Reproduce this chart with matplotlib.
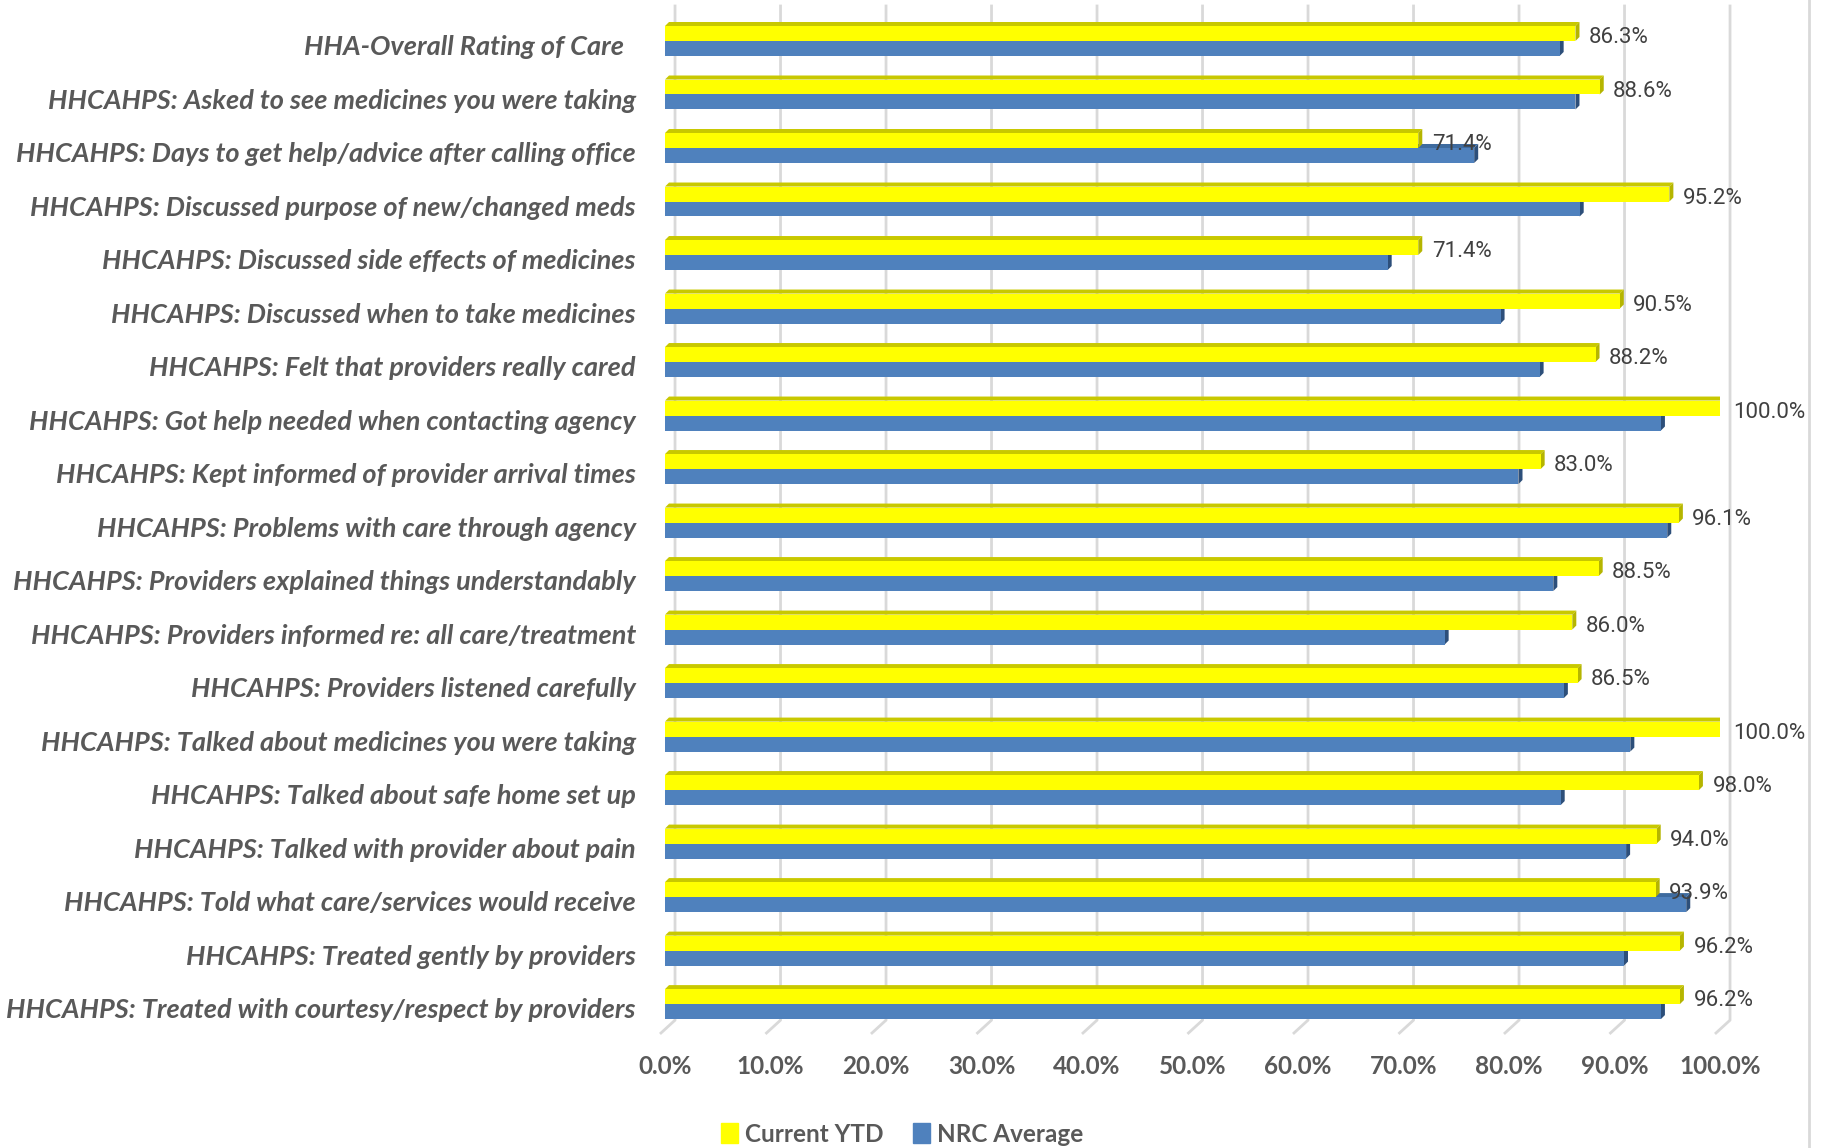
import numpy as np
import matplotlib
matplotlib.use("Agg")
import matplotlib.pyplot as plt
from matplotlib.patches import Polygon, Patch
from matplotlib.lines import Line2D

labels = [
    "HHA-Overall Rating of Care  ",
    "HHCAHPS: Asked to see medicines you were taking",
    "HHCAHPS: Days to get help/advice after calling office",
    "HHCAHPS: Discussed purpose of new/changed meds",
    "HHCAHPS: Discussed side effects of medicines",
    "HHCAHPS: Discussed when to take medicines",
    "HHCAHPS: Felt that providers really cared",
    "HHCAHPS: Got help needed when contacting agency",
    "HHCAHPS: Kept informed of provider arrival times",
    "HHCAHPS: Problems with care through agency",
    "HHCAHPS: Providers explained things understandably",
    "HHCAHPS: Providers informed re: all care/treatment",
    "HHCAHPS: Providers listened carefully",
    "HHCAHPS: Talked about medicines you were taking",
    "HHCAHPS: Talked about safe home set up",
    "HHCAHPS: Talked with provider about pain",
    "HHCAHPS: Told what care/services would receive",
    "HHCAHPS: Treated gently by providers",
    "HHCAHPS: Treated with courtesy/respect by providers",
]
current_ytd = [86.3, 88.6, 71.4, 95.2, 71.4, 90.5, 88.2, 100.0, 83.0, 96.1,
               88.5, 86.0, 86.5, 100.0, 98.0, 94.0, 93.9, 96.2, 96.2]
nrc_average = [84.8, 86.3, 76.7, 86.7, 68.5, 79.2, 82.9, 94.4, 80.9, 95.0,
               84.2, 73.9, 85.2, 91.5, 84.9, 91.1, 96.8, 90.9, 94.4]
ticks = np.arange(0, 101, 10)

YEL, YEL_TOP, YEL_SIDE = "#FFFF00", "#C8C800", "#B5B500"
BLU, BLU_TOP, BLU_SIDE = "#4F81BD", "#3E6B9F", "#2D4F7A"
GRAY = "#595959"

W, H = 1824, 1148
fig = plt.figure(figsize=(W / 100, H / 100), dpi=100)
ax = fig.add_axes([665 / W, (H - 1033) / H, 1055 / W, 1027 / H])
ax.set_xlim(0, 100)
ax.set_ylim(18.54, -0.654)

bh = 0.28     # bar face height
dx = 0.38     # bar depth in x
dy = 0.075    # bar depth in y
back = 0.95   # back wall offset
floor_back, floor_front = 18.30, 18.54

# back wall gridlines + floor ticks
for t in ticks:
    ax.plot([t + back, t + back, t - 0.38], [-0.654, floor_back, floor_front],
            color="#D9D9D9", lw=2, clip_on=False, zorder=0)

y = np.arange(len(labels))
for i, (c, n) in enumerate(zip(current_ytd, nrc_average)):
    # NRC bar (below)
    top = i
    ax.add_patch(Polygon([(0, top), (n, top), (n + dx, top - dy), (dx, top - dy)],
                         closed=True, color=BLU_TOP, lw=0, zorder=2))
    ax.add_patch(Polygon([(n, top), (n + dx, top - dy), (n + dx, top + bh - dy), (n, top + bh)],
                         closed=True, color=BLU_SIDE, lw=0, zorder=2))
    # current bar (above)
    top = i - bh
    ax.add_patch(Polygon([(0, top), (c, top), (c + dx, top - dy), (dx, top - dy)],
                         closed=True, color=YEL_TOP, lw=0, zorder=3))
    ax.add_patch(Polygon([(c, top), (c + dx, top - dy), (c + dx, top + bh - dy), (c, top + bh)],
                         closed=True, color=YEL_SIDE, lw=0, zorder=3))
    ax.text(c + dx + 0.9, i - bh / 2 + 0.08, f"{c:.1f}%", ha="left", va="center",
            fontsize=16, family="Roboto", color="#404040", zorder=5)

ax.barh(y + bh / 2, nrc_average, height=bh, color=BLU, zorder=2.5)
ax.barh(y - bh / 2, current_ytd, height=bh, color=YEL, zorder=3.5)

# category labels sit a little below the bar pair centre
ax.set_yticks(y + 0.08)
ax.set_yticklabels(labels, fontsize=19.5, family="Lato", fontweight="bold",
                   fontstyle="italic", color=GRAY)
ax.set_xticks(ticks)
ax.set_xticklabels([f"{t:.1f}%" for t in ticks], fontsize=17.5, family="Lato",
                   fontweight="bold", color=GRAY)
ax.tick_params(axis="y", length=0, pad=21)
ax.tick_params(axis="x", length=0, pad=16)
for s in ax.spines.values():
    s.set_visible(False)
ax.patch.set_alpha(0)

# chart border on the right
fig.add_artist(Line2D([1809 / W, 1809 / W], [0, 1], color="#D9D9D9", lw=2))

handles = [Patch(color=YEL, label="Current YTD"), Patch(color=BLU, label="NRC Average")]
fig.legend(handles=handles, loc="center", bbox_to_anchor=(902 / W, 1 - 1134 / H),
           ncol=2, frameon=False, handlelength=0.7, handleheight=0.9,
           handletextpad=0.3, columnspacing=1.2,
           prop={"family": "Lato", "weight": "bold", "size": 17.5},
           labelcolor=GRAY)

fig.savefig("out.png", dpi=100)
